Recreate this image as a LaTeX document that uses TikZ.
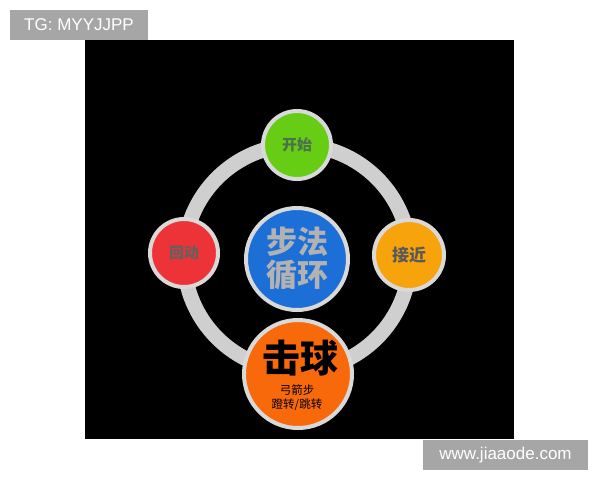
\documentclass[tikz,border=0pt]{standalone}
\usepackage{fontspec}
\setmainfont{Liberation Sans}
\newfontfamily\cjk{Noto Sans CJK SC}
\definecolor{ringgray}{HTML}{CFCFCF}
\definecolor{rimgray}{HTML}{D9D9D9}
\definecolor{wmgray}{HTML}{A6A6A6}
\definecolor{cgreen}{HTML}{66CC14}
\definecolor{cred}{HTML}{EE3338}
\definecolor{cyellow}{HTML}{F7A30C}
\definecolor{cblue}{HTML}{1C6FD6}
\definecolor{corange}{HTML}{F8690C}
\begin{document}
\begin{tikzpicture}[x=1pt,y=-1pt,
  disc/.style={circle,draw=rimgray,line width=4pt,inner sep=0pt,align=center,font=\cjk\bfseries},
  wm/.style={fill=wmgray,text=white,inner sep=0pt,font=\fontsize{17}{17}\selectfont}]
\useasboundingbox (0,0) rectangle (600,480);
\fill[white] (0,0) rectangle (600,480);
\fill[black] (85,40) rectangle (514,439);
% ring
\draw[ringgray,line width=15pt] (297,258) circle (113);
% discs
\node[disc,fill=cgreen,minimum size=68pt,text=black!65!green!40!gray,font=\cjk\bfseries\fontsize{15}{15}\selectfont] (start) at (297,145) {开始};
\node[disc,fill=cred,minimum size=68pt,text=black!62,font=\cjk\bfseries\fontsize{15}{15}\selectfont] (back) at (184,253) {回动};
\node[disc,fill=cyellow,minimum size=70pt,text=black!65,font=\cjk\bfseries\fontsize{17}{17}\selectfont] (near) at (409,255) {接近};
\node[disc,fill=cblue,minimum size=102pt,text=black!30,font=\cjk\bfseries\fontsize{31}{33}\selectfont] (cycle) at (297,259) {步法\\循环};
\node[disc,fill=corange,minimum size=108pt] (hit) at (298,374) {};
\node[font=\cjk\bfseries\fontsize{38}{38}\selectfont,text=black] (hitt) at (300,358) {击球};
\node[font=\cjk\fontsize{11.5}{14}\selectfont,text=black,align=center] (hits) at (297,398) {弓箭步\\蹬转/跳转};
% watermarks
\node[wm,minimum width=138pt,minimum height=30pt] (tg) at (79,25) {TG: MYYJJPP};
\node[wm,minimum width=165pt,minimum height=30pt] (site) at (505.5,455) {www.jiaaode.com};
\end{tikzpicture}
\end{document}
